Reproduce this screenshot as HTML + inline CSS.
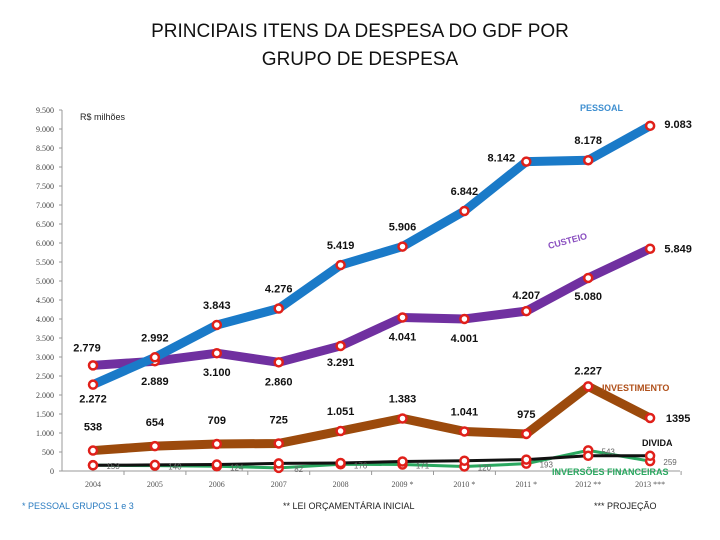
<!DOCTYPE html>
<html><head><meta charset="utf-8">
<style>
body{margin:0;background:#fff;width:720px;height:540px;overflow:hidden;font-family:"Liberation Sans",sans-serif;}
#title{position:absolute;left:0;top:18px;width:720px;text-align:center;font-size:19px;line-height:28px;color:#111;}
svg{position:absolute;left:0;top:0;}
</style></head><body>
<div id="title">PRINCIPAIS ITENS DA DESPESA DO GDF POR<br>GRUPO DE DESPESA</div>
<svg id="chart" width="720" height="540"></svg>
<script>
const categories=["2004","2005","2006","2007","2008","2009 *","2010 *","2011 *","2012 **","2013 ***"];
const pessoal=[2272,2992,3843,4276,5419,5906,6842,8142,8178,9083];
const custeio=[2779,2889,3100,2860,3291,4041,4001,4207,5080,5849];
const investimento=[538,654,709,725,1051,1383,1041,975,2227,1395];
const divida=[150,160,170,200,210,250,270,300,400,400];
const inversoes=[153,140,124,82,176,171,120,193,543,259];
const yTicks=[0,500,1000,1500,2000,2500,3000,3500,4000,4500,5000,5500,6000,6500,7000,7500,8000,8500,9000,9500];

const NS="http://www.w3.org/2000/svg";
const svg=document.getElementById('chart');
const x=i=>93+i*61.9;
const y=v=>471-v*0.038;
function el(t,a,p){const e=document.createElementNS(NS,t);for(const k in a)e.setAttribute(k,a[k]);(p||svg).appendChild(e);return e;}
function fmt(v){return v.toLocaleString('de-DE');}

// axis
const ax=el('g',{});


el('line',{x1:62,y1:y(9500),x2:62,y2:y(0),stroke:'#999','stroke-width':1},ax);
el('line',{x1:62,y1:y(0),x2:680,y2:y(0),stroke:'#999','stroke-width':1},ax);
yTicks.forEach(t=>{
  el('line',{x1:59,y1:y(t),x2:62,y2:y(t),stroke:'#999'},ax);
  const tx=el('text',{x:54,y:y(t)+3,'text-anchor':'end','font-size':8,fill:'#444','font-family':'Liberation Serif, serif'},ax);
  tx.textContent=fmt(t);
  
  
});
categories.forEach((c,i)=>{
  el('line',{x1:x(i)+31,y1:y(0),x2:x(i)+31,y2:y(0)+4,stroke:'#999'},ax);
  const tx=el('text',{x:x(i),y:487,'text-anchor':'middle','font-size':8,fill:'#555','font-family':'Liberation Serif, serif'},ax);
  tx.textContent=c;
  
  
});
const unit=el('text',{x:80,y:120,'font-size':9,fill:'#222'});
unit.textContent='R$ milhões';



function series(name,vals,color,w,labels,bold,size,labColor){
  const g=el('g',{});
  
  
  const pts=vals.map((v,i)=>x(i)+','+y(v)).join(' ');
  const pl=el('polyline',{points:pts,fill:'none',stroke:color,'stroke-width':w,'stroke-linejoin':'round'},g);
  
  
  vals.forEach((v,i)=>{
    const c=el('circle',{cx:x(i),cy:y(v),r:4,fill:'#fff',stroke:'#e0201a','stroke-width':2.5},g);
    
    
    if(labels){
      const t=el('text',{x:x(i)+labels[i][0],y:y(v)+labels[i][1],'text-anchor':'middle','font-size':size,'font-weight':bold?'bold':'normal',fill:labColor},g);
      t.textContent=fmt(v).replace(/^1\.395$/,'1395');
      
      
    }
  });
}
series('inversoes',inversoes,'#2aa860',3,null);
series('divida',divida,'#111',3,null);
const invLbl=[[20,4],[20,4],[20,4],[20,4],[20,4],[20,4],[20,4],[20,4],[20,4],[20,4]];
inversoes.forEach((v,i)=>{
  const t=el('text',{x:x(i)+invLbl[i][0],y:y(v)+invLbl[i][1],'text-anchor':'middle','font-size':8,fill:'#666'});
  t.textContent=v;
  
  
});
series('investimento',investimento,'#9c4a0c',9,[[0,-20],[0,-20],[0,-20],[0,-20],[0,-16],[0,-16],[0,-16],[0,-16],[0,-12],[28,4]],true,11,'#111');
series('custeio',custeio,'#7030a0',9,[[-6,-14],[0,24],[0,23],[0,23],[0,20],[0,23],[0,23],[0,-12],[0,22],[28,4]],true,11,'#111');
series('pessoal',pessoal,'#1a7ac8',9,[[0,18],[0,-16],[0,-16],[0,-16],[0,-16],[0,-16],[0,-16],[-25,0],[0,-16],[28,2]],true,11,'#111');

function lab(txt,xx,yy,col,nm,rot,size){
  const t=el('text',{x:xx,y:yy,'font-size':size||9,'font-weight':'bold',fill:col});
  if(rot)t.setAttribute('transform','rotate('+rot+' '+xx+' '+yy+')');
  t.textContent=txt;
  
  
}
lab('PESSOAL',580,111,'#3f8fd0','pessoal-series-label');
lab('CUSTEIO',549,249,'#8a4fc0','custeio-series-label',-15);
lab('INVESTIMENTO',602,391,'#b0501a','investimento-series-label');
lab('DIVIDA',642,446,'#111','divida-series-label');
lab('INVERSÕES FINANCEIRAS',552,475,'#2aa860','inversoes-series-label');
const n1=el('text',{x:22,y:509,'font-size':9,fill:'#2a7bc0'});n1.textContent='* PESSOAL GRUPOS 1 e 3';

const n2=el('text',{x:283,y:509,'font-size':9,fill:'#222'});n2.textContent='** LEI ORÇAMENTÁRIA INICIAL';

const n3=el('text',{x:594,y:509,'font-size':9,fill:'#222'});n3.textContent='*** PROJEÇÃO';

</script>
</body></html>
